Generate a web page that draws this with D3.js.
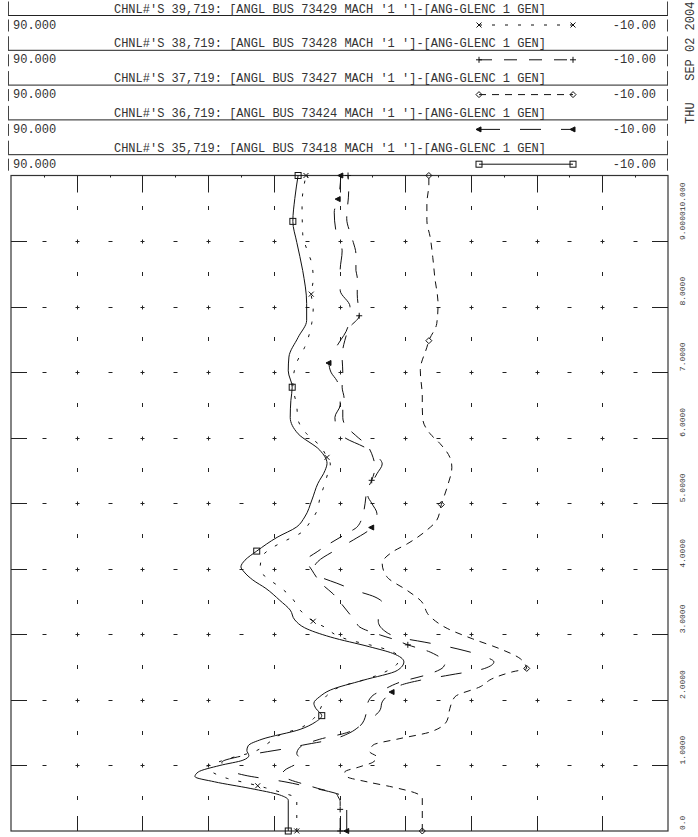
<!DOCTYPE html>
<html>
<head>
<meta charset="utf-8">
<script src="https://cdn.jsdelivr.net/npm/d3@7"></script>
<style>
  body { margin: 0; background: #fff; }
  text { font-family: "Liberation Mono", "DejaVu Sans Mono", monospace; fill: #333; }
</style>
</head>
<body>
<div id="chart"></div>
<script>
// channel info for the legend blocks (top to bottom)
const channels = [39, 38, 37, 36, 35];
const buses = [73429, 73428, 73427, 73424, 73418];

// time axis ticks (seconds), value axis ticks (degrees)
const timeTicks = [1, 2, 3, 4, 5, 6, 7, 8, 9];
const halfTimeTicks = [0.5, 1.5, 2.5, 3.5, 4.5, 5.5, 6.5, 7.5, 8.5, 9.5];
const valueTicks = [80, 70, 60, 50, 40, 30, 20, 10, 0];
const halfValueTicks = [85, 75, 65, 55, 45, 35, 25, 15, 5, -5];
const timeLabels = ["0.0", "1.0000", "2.0000", "3.0000", "4.0000", "5.0000", "6.0000", "7.0000", "8.0000", "9.0000", "10.000"];

// CHNL 35 (solid, squares)
const t35 = [0, 0.47, 0.55, 0.65, 0.75, 0.83, 0.90, 1.00, 1.08, 1.15, 1.23, 1.30, 1.40, 1.55, 1.66, 1.76, 1.87, 1.95, 2.05, 2.15, 2.30, 2.45, 2.58, 2.71, 2.81, 2.96, 3.10, 3.22, 3.37, 3.52, 3.70, 3.83, 3.95, 4.03, 4.13, 4.27, 4.48, 4.64, 4.79, 5.05, 5.30, 5.50, 5.61, 5.81, 6.06, 6.31, 6.57, 6.77, 7.02, 7.23, 7.53, 7.79, 8.05, 8.55, 8.98, 9.30, 9.65, 10];
const v35 = [47.8, 47.8, 49.1, 53.6, 59.0, 62.0, 61.5, 58.2, 54.7, 53.8, 54.1, 53.9, 51.8, 46.0, 43.7, 42.7, 43.6, 43.9, 43.0, 41.4, 36.4, 31.2, 30.2, 31.9, 35.4, 41.4, 45.3, 46.8, 47.5, 49.1, 51.2, 53.2, 54.5, 55.0, 54.4, 52.6, 49.5, 46.5, 45.3, 44.2, 43.3, 42.2, 41.9, 43.0, 46.3, 47.5, 47.4, 47.2, 47.8, 47.7, 46.3, 45.0, 45.0, 45.6, 46.5, 47.1, 46.8, 46.3];
const m35 = [0, 1.76, 4.27, 6.77, 9.30, 10];

// CHNL 39 (dotted, crosses)
const t39 = [0, 0.50, 0.58, 0.66, 0.72, 0.80, 0.90, 0.98, 1.05, 1.11, 1.20, 1.33, 1.45, 1.59, 1.72, 1.85, 2.07, 2.20, 2.32, 2.45, 2.58, 2.66, 2.75, 2.84, 2.91, 3.00, 3.09, 3.20, 3.37, 3.55, 3.70, 3.83, 3.98, 4.18, 4.33, 4.44, 4.54, 4.71, 4.89, 5.07, 5.22, 5.45, 5.60, 5.70, 5.88, 6.06, 6.27, 6.47, 6.82, 7.15, 7.38, 7.76, 7.99, 8.19, 8.42, 8.65, 8.88, 9.11, 9.57, 10];
const v39 = [46.5, 46.5, 48.6, 51.3, 53.6, 57.0, 59.4, 60.2, 58.5, 56.7, 53.3, 51.0, 49.4, 45.6, 43.9, 43.0, 41.9, 39.9, 35.8, 32.6, 31.1, 31.1, 32.3, 35.4, 38.4, 40.7, 41.9, 44.0, 46.0, 47.2, 48.8, 50.6, 52.1, 51.8, 50.1, 48.0, 46.0, 44.5, 43.4, 43.0, 42.5, 41.8, 41.4, 41.9, 43.0, 45.0, 46.3, 46.5, 47.1, 46.5, 45.3, 44.2, 44.0, 44.3, 44.0, 44.2, 45.0, 45.6, 45.7, 45.1];
const m39 = [0, 0.69, 3.20, 5.70, 8.19, 10];

// CHNL 38 (dashed, plus)
const t38 = [0, 0.45, 0.52, 0.57, 0.65, 0.72, 0.78, 0.85, 0.93, 1.03, 1.10, 1.18, 1.28, 1.40, 1.50, 1.60, 1.77, 1.92, 2.07, 2.15, 2.27, 2.40, 2.50, 2.58, 2.68, 2.73, 2.84, 2.92, 2.99, 3.11, 3.19, 3.34, 3.49, 3.62, 3.75, 3.98, 4.13, 4.26, 4.36, 4.48, 4.54, 4.64, 4.84, 5.00, 5.20, 5.35, 5.55, 5.70, 5.88, 6.04, 6.20, 6.31, 6.47, 6.60, 6.77, 7.00, 7.23, 7.48, 7.69, 7.86, 8.19, 8.45, 8.55, 8.80, 8.98, 9.13, 9.34, 9.77, 10];
const v38 = [39.9, 39.9, 40.2, 40.5, 43.3, 45.6, 47.5, 48.8, 48.3, 46.5, 46.0, 46.5, 46.0, 43.0, 38.9, 36.9, 36.0, 35.8, 34.9, 33.4, 30.8, 26.2, 24.2, 23.9, 25.2, 26.2, 29.6, 31.6, 33.8, 36.9, 37.5, 38.7, 39.9, 41.0, 42.5, 44.2, 45.0, 43.4, 41.9, 39.9, 38.9, 37.3, 36.4, 36.1, 35.8, 35.1, 34.6, 34.9, 35.8, 37.6, 39.2, 39.5, 39.5, 39.3, 39.6, 39.5, 39.6, 39.2, 38.4, 37.0, 37.3, 37.3, 37.5, 37.5, 37.9, 38.4, 38.9, 38.6, 38.7];
const m38 = [0, 0.33, 2.84, 5.35, 7.86, 10];

// CHNL 37 (short dash, diamonds)
const t37 = [0, 0.50, 0.57, 0.67, 0.75, 0.83, 0.90, 0.98, 1.05, 1.13, 1.21, 1.31, 1.41, 1.51, 1.69, 1.87, 2.05, 2.20, 2.33, 2.43, 2.48, 2.55, 2.63, 2.78, 2.93, 3.09, 3.27, 3.52, 3.67, 3.88, 4.08, 4.26, 4.38, 4.59, 4.74, 4.98, 5.25, 5.55, 5.70, 5.91, 6.06, 6.27, 6.47, 6.62, 7.03, 7.38, 7.48, 7.74, 8.04, 8.45, 8.75, 9.06, 9.31, 9.57, 9.87, 10];
const v37 = [27.4, 27.4, 28.2, 31.9, 35.8, 38.9, 39.2, 36.9, 34.9, 34.3, 35.4, 34.9, 30.8, 26.2, 23.6, 23.2, 22.4, 18.6, 16.6, 13.6, 11.5, 11.8, 12.5, 15.6, 19.7, 23.6, 26.2, 27.7, 29.7, 32.8, 33.5, 31.9, 29.7, 26.7, 25.2, 24.5, 23.6, 22.9, 23.2, 24.7, 26.2, 27.3, 27.4, 27.4, 27.7, 26.7, 26.4, 25.2, 25.0, 25.5, 25.8, 26.2, 26.7, 26.7, 26.4, 26.4];
const m37 = [0, 2.48, 4.98, 7.48, 10];

// CHNL 36 (long dash, triangles)
const t36 = [0, 0.45, 0.52, 0.57, 0.65, 0.75, 0.85, 0.95, 1.05, 1.13, 1.21, 1.26, 1.31, 1.39, 1.50, 1.60, 1.72, 1.85, 1.97, 2.12, 2.22, 2.30, 2.38, 2.48, 2.58, 2.66, 2.75, 2.82, 2.88, 2.95, 3.05, 3.20, 3.37, 3.47, 3.57, 3.67, 3.78, 3.88, 3.98, 4.11, 4.28, 4.44, 4.63, 4.84, 5.00, 5.12, 5.30, 5.45, 5.60, 5.70, 5.85, 6.00, 6.15, 6.31, 6.50, 6.70, 6.87, 7.00, 7.14, 7.30, 7.43, 7.70, 8.00, 8.25, 8.55, 8.85, 9.13, 9.44, 9.64, 10];
const v36 = [38.9, 38.9, 39.2, 40.4, 43.7, 48.3, 54.4, 57.4, 57.9, 55.5, 51.0, 48.0, 45.6, 41.4, 38.4, 36.9, 35.1, 33.8, 33.5, 32.0, 30.8, 27.7, 23.2, 17.9, 16.5, 17.9, 20.9, 23.9, 27.0, 30.8, 33.1, 34.1, 34.1, 33.4, 34.6, 37.6, 40.4, 43.0, 44.0, 43.3, 40.7, 37.9, 35.1, 34.3, 35.1, 35.7, 35.1, 34.3, 33.5, 34.1, 36.1, 39.2, 40.4, 40.7, 39.9, 39.9, 40.4, 41.3, 41.6, 41.0, 40.2, 38.7, 38.4, 39.9, 39.9, 39.6, 40.5, 40.8, 40.2, 39.8];
const m36 = [0, 2.12, 4.63, 7.14, 9.64, 10];

const series = [
  { t: t39, v: v39, marks: m39, dash: "3,10", sym: "x" },
  { t: t38, v: v38, marks: m38, dash: "13,12", sym: "plus" },
  { t: t37, v: v37, marks: m37, dash: "7,6", sym: "diamond" },
  { t: t36, v: v36, marks: m36, dash: "21,20", sym: "tri" },
  { t: t35, v: v35, marks: m35, dash: null, sym: "square" }
];

const W = 698, H = 837;
const plotLeft = 11, plotRight = 668, plotTop = 175.5, plotBottom = 831;

const svg = d3.select("#chart").append("svg")
  .attr("width", W).attr("height", H);

const x = d3.scaleLinear().domain([90, -10]).range([plotLeft, plotRight]);
const y = d3.scaleLinear().domain([0, 10]).range([plotBottom, plotTop]);

function drawSymbol(g, type, cx, cy) {
  const s = g.append("g")
    .attr("transform", `translate(${cx},${cy})`)
    .attr("stroke", "#111").attr("stroke-width", 1).attr("fill", "none");
  if (type === "square") {
    s.append("rect").attr("x", -3).attr("y", -3).attr("width", 6).attr("height", 6);
  } else if (type === "x") {
    s.append("path").attr("d", "M-2.5,-2.5L2.5,2.5M-2.5,2.5L2.5,-2.5");
  } else if (type === "plus") {
    s.append("path").attr("d", "M-3,0L3,0M0,-3L0,3");
  } else if (type === "diamond") {
    s.append("path").attr("d", "M0,-3L3,0L0,3L-3,0Z");
  } else if (type === "tri") {
    s.append("path").attr("d", "M-3,0L2,-2.5L2,2.5Z").attr("fill", "#111");
  }
}

// ---- legend blocks ----
channels.forEach((ch, i) => {
  const s = series[i];
  const yU = 15.5 + 34.8 * i;
  const g = svg.append("g");
  g.append("line").attr("x1", 8).attr("x2", plotRight).attr("y1", yU).attr("y2", yU)
    .attr("stroke", "#222");
  [8.5, plotRight - 0.5].forEach(bx => {
    g.append("line").attr("x1", bx).attr("x2", bx).attr("y1", yU - 14).attr("y2", yU).attr("stroke", "#444");
    g.append("line").attr("x1", bx).attr("x2", bx).attr("y1", yU + 4).attr("y2", yU + 16).attr("stroke", "#444");
  });
  g.append("text").attr("x", 330).attr("y", yU - 3).attr("text-anchor", "middle")
    .attr("font-size", 12)
    .text(`CHNL#'S ${ch},719: [ANGL BUS ${buses[i]} MACH '1 ']-[ANG-GLENC 1 GEN]`);
  g.append("text").attr("x", 13).attr("y", yU + 13).attr("font-size", 12).text("90.000");
  g.append("text").attr("x", 656).attr("y", yU + 13).attr("text-anchor", "end")
    .attr("font-size", 12).text("-10.00");
  const ly = yU + 9.5;
  const sample = g.append("line").attr("x1", 479).attr("x2", 573).attr("y1", ly).attr("y2", ly)
    .attr("stroke", "#111");
  if (s.dash) sample.attr("stroke-dasharray", s.dash);
  drawSymbol(g, s.sym, 479, ly);
  drawSymbol(g, s.sym, 573, ly);
});

// ---- plot frame ----
svg.append("rect").attr("x", plotLeft).attr("y", plotTop)
  .attr("width", plotRight - plotLeft).attr("height", plotBottom - plotTop)
  .attr("fill", "none").attr("stroke", "#333").attr("stroke-width", 1.2);

const marks = svg.append("g").attr("stroke", "#222").attr("stroke-width", 1);

timeTicks.forEach(t => {
  const yy = Math.round(y(t)) + 0.5;
  marks.append("line").attr("x1", plotLeft).attr("x2", plotLeft + 16).attr("y1", yy).attr("y2", yy);
  marks.append("line").attr("x1", plotRight - 16).attr("x2", plotRight).attr("y1", yy).attr("y2", yy);
  valueTicks.forEach(v => {
    const xx = Math.round(x(v)) + 0.5;
    marks.append("path").attr("d", `M${xx - 2},${yy}H${xx + 2}M${xx},${yy - 2}V${yy + 2}`);
  });
  halfValueTicks.forEach(v => {
    const xx = Math.round(x(v)) + 0.5;
    marks.append("line").attr("x1", xx - 2).attr("x2", xx + 2).attr("y1", yy).attr("y2", yy);
  });
});

halfTimeTicks.forEach(t => {
  const yy = Math.round(y(t));
  valueTicks.forEach(v => {
    const xx = Math.round(x(v)) + 0.5;
    marks.append("line").attr("x1", xx).attr("x2", xx).attr("y1", yy - 2).attr("y2", yy + 2);
  });
});

valueTicks.forEach(v => {
  const xx = Math.round(x(v)) + 0.5;
  marks.append("line").attr("x1", xx).attr("x2", xx).attr("y1", plotTop).attr("y2", plotTop + 17);
  marks.append("line").attr("x1", xx).attr("x2", xx).attr("y1", plotBottom - 15).attr("y2", plotBottom);
});
halfValueTicks.forEach(v => {
  const xx = Math.round(x(v)) + 0.5;
  marks.append("line").attr("x1", xx).attr("x2", xx).attr("y1", plotTop).attr("y2", plotTop + 2);
});

// ---- time labels (rotated, right side) ----
timeLabels.forEach((lab, i) => {
  const last = i === timeLabels.length - 1;
  const yy = last ? plotTop + 7 : y(i) - 1;
  svg.append("text")
    .attr("transform", `translate(685,${yy}) rotate(-90)`)
    .attr("text-anchor", last ? "end" : "start")
    .attr("font-size", 8)
    .text(lab);
});

svg.append("text")
  .attr("transform", "translate(694,124) rotate(-90)")
  .attr("font-size", 12)
  .style("white-space", "pre")
  .text("THU   SEP 02 2004");

// ---- curves ----
const line = d3.line()
  .x(d => x(d[1]))
  .y(d => y(d[0]))
  .curve(d3.curveMonotoneY);

const curves = svg.append("g");
series.slice().reverse().forEach(s => {
  const p = curves.append("path")
    .datum(d3.zip(s.t, s.v))
    .attr("d", line)
    .attr("fill", "none")
    .attr("stroke", "#111")
    .attr("stroke-width", 1);
  if (s.dash) p.attr("stroke-dasharray", s.dash);
  const along = d3.scaleLinear().domain(s.t).range(s.v);
  s.marks.forEach(t => drawSymbol(curves, s.sym, x(along(t)), y(t)));
});
</script>
</body>
</html>
